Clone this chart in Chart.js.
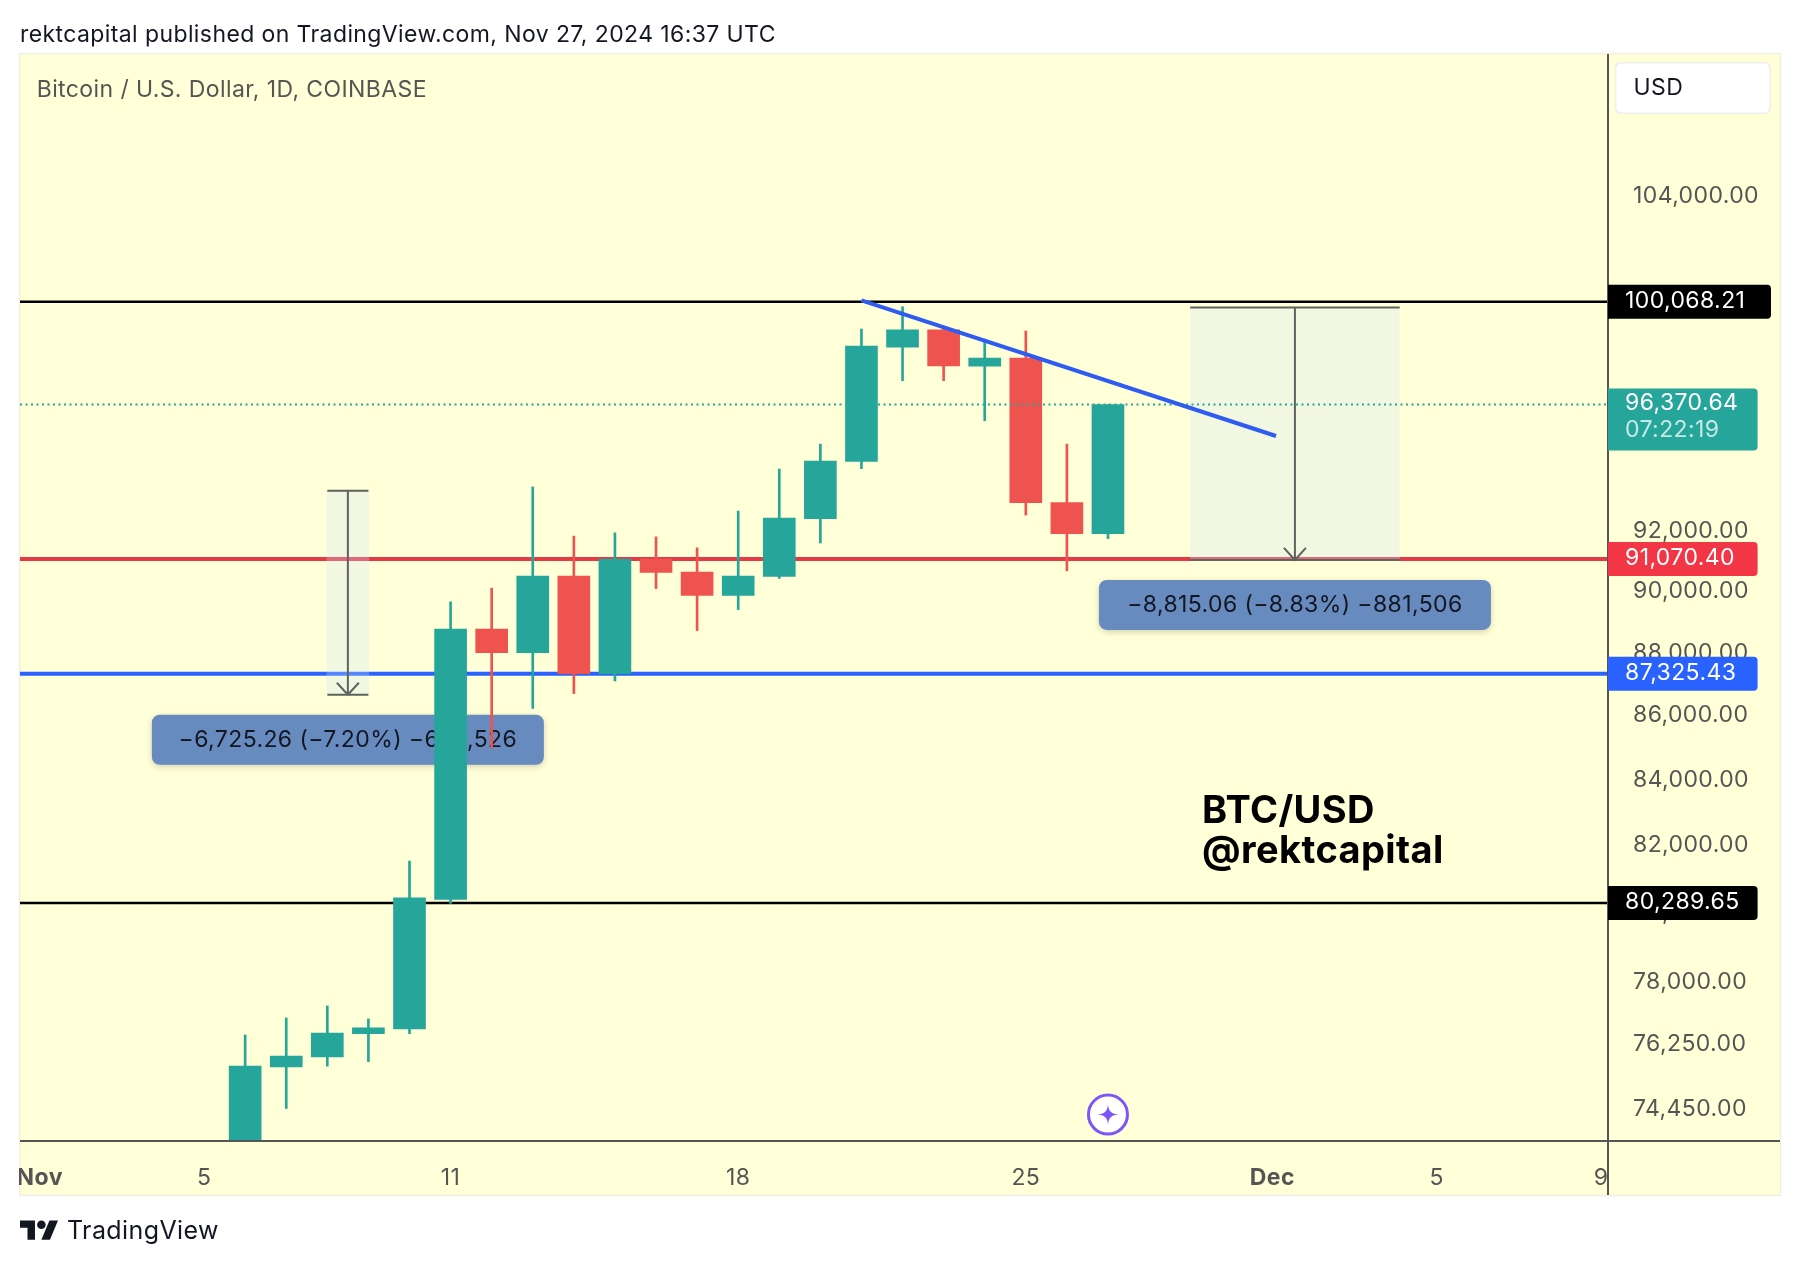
<!DOCTYPE html>
<html>
<head>
<meta charset="utf-8">
<title>BTC/USD</title>
<script src="https://cdn.jsdelivr.net/npm/chart.js@4"></script>
<style>
  html, body { margin: 0; padding: 0; background: #fff; }
  canvas { display: block; }
</style>
</head>
<body>
<canvas id="myChart" width="1794" height="1266"></canvas>
<script>
// daily candles, x is day counted from Nov 1 (Dec 1 = 31)
const candleDays  = [6, 7, 8, 9, 10, 11, 12, 13, 14, 15, 16, 17, 18, 19, 20, 21, 22, 23, 24, 25, 26, 27];
const candleOpen  = [73600, 75610, 75891, 76534, 76669, 80392, 88765, 87995, 90502, 87321, 91067, 90634, 89860, 90488, 92421, 94385, 98415, 99045, 97733, 98024, 92971, 91918];
const candleHigh  = [76502, 76980, 77319, 76952, 81531, 89651, 90103, 93507, 91837, 91945, 91810, 91444, 92683, 94119, 94984, 99074, 99883, 99100, 98709, 99001, 94984, 96370.64];
const candleLow   = [73600, 74467, 75633, 75759, 76534, 80275, 84980, 86218, 86691, 87091, 90088, 88713, 89398, 90423, 91605, 94133, 97215, 97215, 95802, 92547, 90678, 91753];
const candleClose = [75633, 75913, 76554, 76703, 80442, 88765, 87995, 90502, 87321, 91067, 90621, 89860, 90502, 92449, 94399, 98459, 99045, 97747, 98024, 92971, 91918, 96370.64];

const priceTicks = [104000, 92000, 90000, 88000, 86000, 84000, 82000, 80000, 78000, 76250, 74450];
const dateTicks  = [1, 5, 11, 18, 25, 31, 35, 39];
const dateLabels = ['Nov', '5', '11', '18', '25', 'Dec', '5', '9'];

const blackLevels = [100068.21, 80289.65];
const redLevel  = 91070.40;
const blueLevel = 87325.43;
const lastPrice = 96370.64;
const countdown = '07:22:19';

const trendDays   = [21, 31.09];
const trendPrices = [100118, 95266];

// price range tools: [day from, day to, price top, price bottom]
const rangeA = [8, 9, 93377, 86652];
const rangeB = [29, 34.1, 99854, 91039];
const rangeTextA = '\u22126,725.26 (\u22127.20%) \u2212672,526';
const rangeTextB = '\u22128,815.06 (\u22128.83%) \u2212881,506';

const GREEN = '#26a69a', RED = '#ef5350', FONT = 'Inter, Roboto, sans-serif';
const PANEL = {left: 20, top: 54, right: 1780, bottom: 1195};
const X_MIN = 0.52, X_MAX = 39.17, Y_MIN = 73587, Y_MAX = 109572;

const candleColors = candleDays.map((d, i) => candleClose[i] >= candleOpen[i] ? GREEN : RED);

function roundBox(ctx, x, y, w, h, r, fill) {
  ctx.beginPath();
  ctx.roundRect(x, y, w, h, r);
  ctx.fillStyle = fill;
  ctx.fill();
}

function text(ctx, str, x, y, font, color, align) {
  ctx.font = font;
  ctx.fillStyle = color;
  ctx.textAlign = align || 'left';
  ctx.textBaseline = 'middle';
  ctx.fillText(str, x, y);
}

function rangeLabel(chart, range, str) {
  const ctx = chart.ctx;
  const cx = chart.scales.x.getPixelForValue((range[0] + range[1]) / 2);
  const top = chart.scales.y.getPixelForValue(range[3]) + 20;
  ctx.save();
  ctx.shadowColor = 'rgba(0,0,0,0.18)';
  ctx.shadowBlur = 6;
  ctx.shadowOffsetY = 2;
  roundBox(ctx, cx - 196, top, 392, 50, 8, '#678abf');
  ctx.restore();
  text(ctx, str, cx, top + 25, '23px ' + FONT, '#131722', 'center');
}

function rangeArrow(chart, range) {
  const ctx = chart.ctx, xs = chart.scales.x, ys = chart.scales.y;
  const x0 = xs.getPixelForValue(range[0]), x1 = xs.getPixelForValue(range[1]);
  const cx = (x0 + x1) / 2;
  const top = ys.getPixelForValue(range[2]), bot = ys.getPixelForValue(range[3]);
  ctx.save();
  ctx.strokeStyle = '#5f6360';
  ctx.lineWidth = 2;
  ctx.beginPath();
  ctx.moveTo(x0, top); ctx.lineTo(x1, top);
  ctx.moveTo(x0, bot); ctx.lineTo(x1, bot);
  ctx.moveTo(cx, top); ctx.lineTo(cx, bot);
  ctx.moveTo(cx - 11, bot - 12); ctx.lineTo(cx, bot); ctx.lineTo(cx + 11, bot - 12);
  ctx.stroke();
  ctx.restore();
}

function priceTag(chart, price, fill, str, right) {
  const ctx = chart.ctx, y = chart.scales.y.getPixelForValue(price);
  const w = (right || 1757.6) - 1608;
  roundBox(ctx, 1608, y - 17, w, 34, [0, 4, 4, 0], fill);
  text(ctx, str, 1625, y - 1, '23px ' + FONT, '#fff');
}

const tvPlugin = {
  id: 'tv_page',
  beforeDraw(chart) {
    const ctx = chart.ctx;
    ctx.letterSpacing = '0.4px';
    ctx.fillStyle = '#fff';
    ctx.fillRect(0, 0, chart.width, chart.height);
    ctx.fillStyle = '#ffffd8';
    ctx.fillRect(PANEL.left, PANEL.top, PANEL.right - PANEL.left, PANEL.bottom - PANEL.top);
    ctx.strokeStyle = '#efefe4';
    ctx.lineWidth = 1.5;
    ctx.strokeRect(PANEL.left - 0.5, PANEL.top - 0.5, PANEL.right - PANEL.left + 1, PANEL.bottom - PANEL.top + 1);
  },
  beforeDatasetsDraw(chart) {
    const ctx = chart.ctx, a = chart.chartArea;
    // the first and last date labels are cut off by the panel edge and the price axis
    ctx.fillStyle = '#fff';
    ctx.fillRect(0, a.bottom, PANEL.left - 1, PANEL.bottom - a.bottom);
    ctx.fillStyle = '#ffffd8';
    ctx.fillRect(a.right, a.bottom + 1, PANEL.right - a.right, PANEL.bottom - a.bottom - 2);
    rangeLabel(chart, rangeA, rangeTextA);
    rangeLabel(chart, rangeB, rangeTextB);
  },
  afterDatasetsDraw(chart) {
    const ctx = chart.ctx, a = chart.chartArea;
    rangeArrow(chart, rangeA);
    rangeArrow(chart, rangeB);

    ctx.strokeStyle = '#555';
    ctx.lineWidth = 2;
    ctx.beginPath();
    ctx.moveTo(PANEL.left, a.bottom); ctx.lineTo(PANEL.right, a.bottom);
    ctx.moveTo(a.right, PANEL.top); ctx.lineTo(a.right, PANEL.bottom);
    ctx.stroke();

    text(ctx, 'BTC/USD', 1202, 812, '700 38px ' + FONT, '#000');
    text(ctx, '@rektcapital', 1202, 852, '700 38px ' + FONT, '#000');

    // purple marker
    const sx = chart.scales.x.getPixelForValue(27), sy = 1114.6;
    ctx.beginPath();
    ctx.arc(sx, sy, 19.5, 0, Math.PI * 2);
    ctx.fillStyle = '#fff';
    ctx.fill();
    ctx.strokeStyle = '#7c57f5';
    ctx.lineWidth = 3;
    ctx.stroke();
    ctx.beginPath();
    ctx.moveTo(sx, sy - 11);
    ctx.quadraticCurveTo(sx, sy, sx + 11, sy);
    ctx.quadraticCurveTo(sx, sy, sx, sy + 11);
    ctx.quadraticCurveTo(sx, sy, sx - 11, sy);
    ctx.quadraticCurveTo(sx, sy, sx, sy - 11);
    ctx.fillStyle = '#7c57f5';
    ctx.fill();
  },
  afterDraw(chart) {
    const ctx = chart.ctx, ys = chart.scales.y;
    priceTag(chart, blackLevels[1], '#000', '80,289.65');
    priceTag(chart, blueLevel, '#2962ff', '87,325.43');
    priceTag(chart, redLevel, '#f23645', '91,070.40');
    priceTag(chart, blackLevels[0], '#000', '100,068.21', 1771);

    const ly = ys.getPixelForValue(lastPrice);
    roundBox(ctx, 1608, ly - 16, 149.6, 62, [0, 4, 4, 0], GREEN);
    text(ctx, '96,370.64', 1625, ly - 1, '23px ' + FONT, '#fff');
    text(ctx, countdown, 1625, ly + 26, '23px ' + FONT, 'rgba(255,255,255,0.75)');

    roundBox(ctx, 1615, 62, 156, 52, 6, '#eeeeee');
    roundBox(ctx, 1616.5, 63.5, 153, 49, 5, '#fff');
    text(ctx, 'USD', 1633.6, 88, '23px ' + FONT, '#131722');

    text(ctx, 'rektcapital published on TradingView.com, Nov 27, 2024 16:37 UTC', 20, 35.5, '23px ' + FONT, '#131722');
    text(ctx, 'Bitcoin / U.S. Dollar, 1D, COINBASE', 36.7, 89.6, '23px ' + FONT, '#555');

    // TradingView logo
    ctx.save();
    ctx.translate(20, 1216.1);
    ctx.scale(1.07, 1.07);
    ctx.fillStyle = '#131722';
    ctx.fill(new Path2D('M14 22H7V11H0V4h14v18zM28 22h-8l7.5-18h8L28 22z'));
    ctx.beginPath();
    ctx.arc(20, 8, 4, 0, Math.PI * 2);
    ctx.fill();
    ctx.restore();
    text(ctx, 'TradingView', 67, 1231, '25px ' + FONT, '#131722');
  }
};

const levelLine = (price, color, width, order, dash) => ({
  type: 'line',
  data: [{x: X_MIN, y: price}, {x: X_MAX, y: price}],
  borderColor: color,
  borderWidth: width,
  borderDash: dash || [],
  pointRadius: 0,
  order: order
});

const rangeBox = (range, thickness) => ({
  data: [{x: (range[0] + range[1]) / 2, y: [range[3], range[2]]}],
  backgroundColor: 'rgba(207,227,248,0.28)',
  barThickness: thickness,
  order: 5
});

const data = {
  datasets: [
    {
      // trend line above the candles
      type: 'line',
      data: [{x: trendDays[0], y: trendPrices[0]}, {x: trendDays[1], y: trendPrices[1]}],
      borderColor: '#2f5cf0',
      borderWidth: 4,
      pointRadius: 0,
      order: 0
    },
    levelLine(lastPrice, GREEN, 2, 1, [2, 3.5]),
    {
      data: candleDays.map((d, i) => ({x: d, y: [candleOpen[i], candleClose[i]]})),
      backgroundColor: candleColors,
      barThickness: 32,
      order: 2
    },
    {
      data: candleDays.map((d, i) => ({x: d, y: [candleLow[i], candleHigh[i]]})),
      backgroundColor: candleColors,
      barThickness: 2,
      order: 3
    },
    rangeBox(rangeA, 42),
    rangeBox(rangeB, 209),
    levelLine(blackLevels[0], '#000', 2.5, 6),
    levelLine(blackLevels[1], '#000', 2.5, 6),
    levelLine(redLevel, '#e63946', 4, 6),
    levelLine(blueLevel, '#2962ff', 4, 6)
  ]
};

const myChart = new Chart(document.getElementById('myChart'), {
  type: 'bar',
  data: data,
  options: {
    responsive: false,
    devicePixelRatio: 1,
    animation: false,
    events: [],
    datasets: { bar: { grouped: false, borderWidth: 0 } },
    layout: { padding: { left: 20, top: 54, right: 14, bottom: 71 } },
    plugins: { legend: { display: false }, title: { display: false }, tooltip: { enabled: false } },
    scales: {
      x: {
        type: 'linear',
        min: X_MIN,
        max: X_MAX,
        offset: false,
        afterBuildTicks: (scale) => { scale.ticks = dateTicks.map(v => ({value: v})); },
        afterFit: (scale) => { scale.height = 54; },
        grid: { display: false },
        border: { display: false },
        ticks: {
          autoSkip: false,
          maxRotation: 0,
          padding: 15,
          color: '#555',
          callback: (v) => dateLabels[dateTicks.indexOf(v)],
          font: (c) => ({
            family: FONT,
            size: 23,
            weight: c.tick && (c.tick.label === 'Nov' || c.tick.label === 'Dec') ? '700' : '400'
          })
        }
      },
      y: {
        type: 'logarithmic',
        position: 'right',
        bounds: 'data',
        min: Y_MIN,
        max: Y_MAX,
        afterBuildTicks: (scale) => { scale.ticks = priceTicks.map(v => ({value: v})); },
        afterFit: (scale) => { scale.width = 172; },
        grid: { display: false },
        border: { display: false },
        ticks: {
          padding: 17,
          color: '#555',
          font: { family: FONT, size: 23 },
          callback: (v) => v.toLocaleString('en-US', {minimumFractionDigits: 2, maximumFractionDigits: 2})
        }
      }
    }
  },
  plugins: [tvPlugin]
});
</script>
</body>
</html>
